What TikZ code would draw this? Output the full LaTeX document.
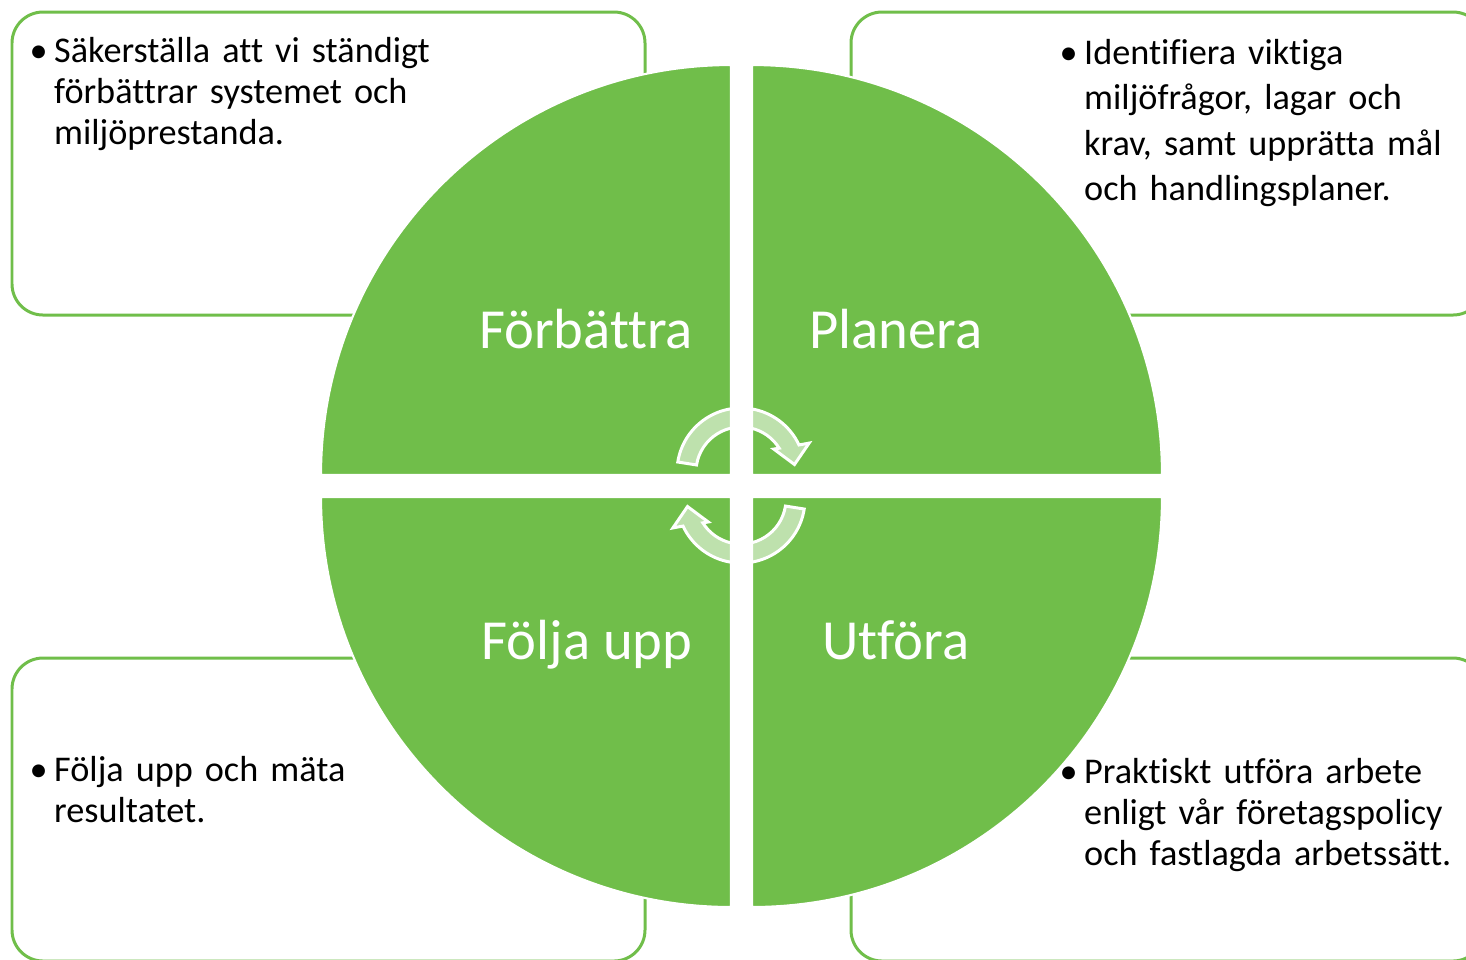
\documentclass[tikz,border=0pt]{standalone}
\usepackage{fontspec}
\setmainfont{Carlito}[Ligatures={NoCommon}]
\usetikzlibrary{calc}
\definecolor{pdcagreen}{RGB}{112,190,74}
\newcommand{\pdcabullet}{\makebox[0.245cm][l]{\textbullet}}
\newcommand{\pdcaindent}{\hspace*{0.245cm}}

\begin{document}
\begin{tikzpicture}[x=0.01cm, y=-0.01cm,
    infobox/.style={draw=pdcagreen, line width=0.85pt, rounded corners=0.31cm, fill=white},
    quadrant/.style={fill=pdcagreen, draw=white, line width=0.6pt},
    cyclearrow/.style={fill=white, fill opacity=0.55, draw=white, line width=0.85pt},
    stagelabel/.style={text=white, anchor=base, inner sep=0pt, font=\fontsize{16.1pt}{19pt}\selectfont},
    bullettext/.style={anchor=base west, inner sep=0pt, text width=5cm, align=left, font=\fontsize{10.3pt}{11.67pt}\selectfont}]
        \useasboundingbox (0,0) rectangle (1466,959);
        \clip (0,0) rectangle (1466,959);

        % Text boxes in the corners
        \draw[infobox] (12,12) rectangle (645,315);
        \draw[infobox] (851,12) rectangle (1484,315);
        \draw[infobox] (12,658) rectangle (645,961);
        \draw[infobox] (851,658) rectangle (1484,961);

        % Circle, split in four
        \draw[quadrant] (731,475) -- (321,475) arc[start angle=180, end angle=270, radius=410] -- cycle;
        \draw[quadrant] (752,475) -- (752,65) arc[start angle=270, end angle=360, radius=410] -- cycle;
        \draw[quadrant] (752,497) -- (1162,497) arc[start angle=0, end angle=90, radius=410] -- cycle;
        \draw[quadrant] (731,497) -- (731,907) arc[start angle=90, end angle=180, radius=410] -- cycle;

        % Cycle arrows in the middle
        \coordinate (topc) at (741,472);
        \coordinate (botc) at (741,499);
        \draw[cyclearrow] ($(topc)+(-171:64)$) arc[start angle=-171, end angle=-25, radius=64]
            -- ($(topc)+(-23:74)$) -- ($(topc)+(-8:54)$) -- ($(topc)+(-35:40)$)
            -- ($(topc)+(-32:45)$) arc[start angle=-32, end angle=-171, radius=45] -- cycle;
        \draw[cyclearrow] ($(botc)+(9:64)$) arc[start angle=9, end angle=155, radius=64]
            -- ($(botc)+(157:74)$) -- ($(botc)+(172:54)$) -- ($(botc)+(145:40)$)
            -- ($(botc)+(148:45)$) arc[start angle=148, end angle=9, radius=45] -- cycle;

        % Stage labels
        \node[stagelabel] (improve) at (586,348) {Förbättra};
        \node[stagelabel] (plan) at (896,348) {Planera};
        \node[stagelabel] (follow) at (587,659) {Följa upp};
        \node[stagelabel] (execute) at (896,659) {Utföra};

        % Box texts
        \node[bullettext] (improvetext) at (29,62) {\pdcabullet Säkerställa att vi ständigt\\
            \pdcaindent förbättrar systemet och\\ \pdcaindent miljöprestanda.};
        \node[bullettext, font=\fontsize{10.3pt}{12.95pt}\selectfont] (plantext) at (1059,64)
            {\pdcabullet Identifiera viktiga\\ \pdcaindent miljöfrågor, lagar och\\
            \pdcaindent krav, samt upprätta mål\\ \pdcaindent och handlingsplaner.};
        \node[bullettext] (followtext) at (29,781) {\pdcabullet Följa upp och mäta\\ \pdcaindent resultatet.};
        \node[bullettext] (executetext) at (1059,783) {\pdcabullet Praktiskt utföra arbete\\
            \pdcaindent enligt vår företagspolicy\\ \pdcaindent och fastlagda arbetssätt.};
    \end{tikzpicture}
\end{document}
